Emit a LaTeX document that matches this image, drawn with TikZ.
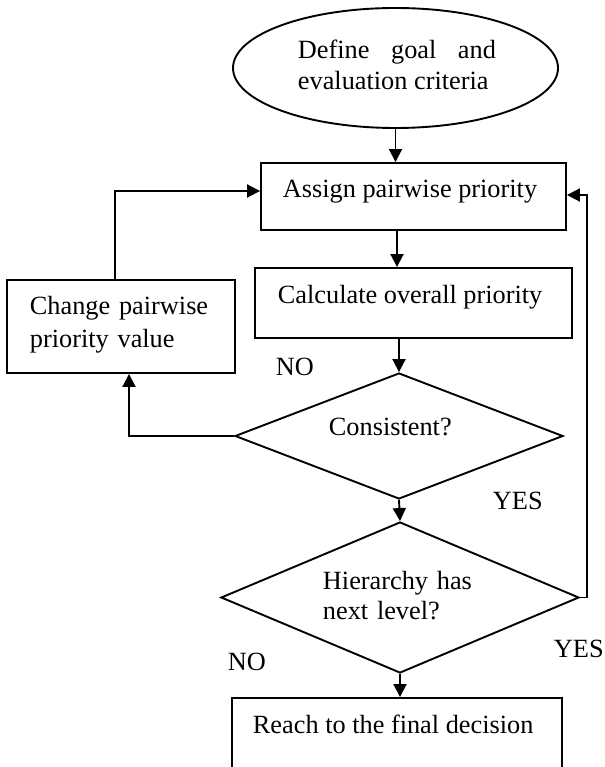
\documentclass[tikz,border=0pt]{standalone}
\usepackage{fontspec}
\setmainfont{Liberation Serif}
\usetikzlibrary{shapes.geometric,arrows.meta}
\begin{document}
\begin{tikzpicture}[x=1pt,y=-1pt,
  line width=1.9pt,
  shapebox/.style={draw,rectangle,inner sep=0pt},
  decision/.style={draw,diamond,inner sep=0pt},
  txt/.style={inner sep=0pt,anchor=base west,font=\fontsize{26.3}{31}\selectfont},
  arr/.style={-{Triangle[length=13pt,width=13pt]}}]
\useasboundingbox (0,0) rectangle (604,767);
\clip (0,0) rectangle (604,767);
% shapes
\node[draw,ellipse,inner sep=0pt,minimum width=325pt,minimum height=120pt] (ell) at (395.5,68) {};
\node[shapebox,minimum width=305pt,minimum height=67pt] (assign) at (413.5,196.5) {};
\node[shapebox,minimum width=317pt,minimum height=70pt] (calc) at (413.5,303) {};
\node[shapebox,minimum width=228pt,minimum height=93pt] (change) at (121,326.5) {};
\node[decision,minimum width=328pt,minimum height=126pt] (d1) at (399,436) {};
\node[decision,minimum width=358pt,minimum height=151pt] (d2) at (400,597.5) {};
\node[shapebox,minimum width=330pt,minimum height=100pt] (final) at (397,748) {};
% texts
\node[txt,text width=198pt,align=justify] (tell) at (297,59) {Define goal and\linebreak evaluation criteria};
\node[txt] (tassign) at (282,197) {Assign pairwise priority};
\node[txt] (tcalc) at (277,303) {Calculate overall priority};
\node[txt,text width=200pt,align=left,font=\fontsize{26.3}{33}\selectfont] (tchange) at (29,314) {Change pairwise\\priority value};
\node[txt] (td1) at (328,435) {Consistent?};
\node[txt,text width=160pt,align=left,font=\fontsize{26.3}{30}\selectfont] (td2) at (322,589) {Hierarchy has\\next level?};
\node[txt] (tfinal) at (252,733) {Reach to the final decision};
\node[txt] (no1) at (275,375) {NO};
\node[txt] (yes1) at (492,509) {YES};
\node[txt] (yes2) at (553,657) {YES};
\node[txt] (no2) at (227,670) {NO};
% column helpers
\coordinate (c1) at (397,0);
\coordinate (rx) at (587,0);
% connectors
\draw[arr] (ell.south) -- (ell.south |- assign.north);
\draw[arr] (assign.south -| c1) -- (calc.north -| c1);
\draw[arr] (calc.south -| d1.north) -- (d1.north);
\draw[arr] (d1.south) -- (d2.north);
\draw[arr] (d2.south) -- (final.north -| d2.south);
\draw[arr] (d1.west) -| ([xshift=8pt]change.south);
\draw[arr] ([xshift=-6pt]change.north) |- ([yshift=5.5pt]assign.west);
\draw[arr] (d2.east) -- (d2.east -| rx) |- ([yshift=1.5pt]assign.east);
\end{tikzpicture}
\end{document}
